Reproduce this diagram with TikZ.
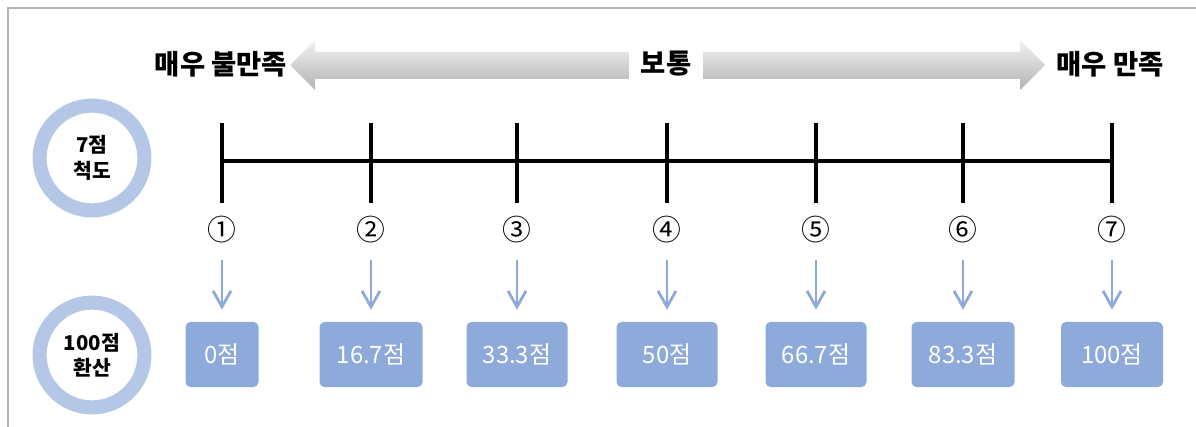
\documentclass[tikz,border=0pt]{standalone}
\usepackage{fontspec}
\setmainfont{Noto Sans CJK KR}
\usetikzlibrary{arrows.meta}
\definecolor{ksRing}{HTML}{B4C7E7}
\definecolor{ksBlue}{HTML}{8EAADB}
\definecolor{ksFrame}{HTML}{B3B3B3}
\begin{document}
\begin{tikzpicture}[
    x=0.025cm, y=-0.025cm,
    ksEnd/.style={font=\bfseries\fontsize{19.5}{22}\selectfont, inner sep=0pt},
    ksRingNode/.style={circle, draw=ksRing, line width=10pt, minimum size=2.62cm, align=center,
        font=\bfseries\fontsize{14.5}{18}\selectfont},
    ksScale/.style={line width=3pt},
    ksNum/.style={font=\fontsize{20.5}{22}\selectfont, inner sep=0pt, minimum height=0.75cm},
    ksDown/.style={ksBlue, line width=2pt, -{Straight Barb[length=0.4cm, width=0.45cm]},
        shorten <=0.375cm, shorten >=0.3cm},
    ksBox/.style={fill=ksBlue, rounded corners=3.5pt, text=white, minimum height=1.625cm,
        font=\fontsize{17}{19}\selectfont}
]
\useasboundingbox (0,0) rectangle (1196,427);
\draw[ksFrame, line width=2pt] (8,427) -- (8,8) -- (1196,8);

% big double arrow
\path[top color=gray!10, bottom color=gray!60]
    (290,65) -- (315,40) -- (315,52) -- (1020,52) -- (1020,40) -- (1045,65)
    -- (1020,90) -- (1020,79) -- (315,79) -- (315,90) -- cycle;
\node[ksEnd, fill=white, inner xsep=0.3cm, inner ysep=3pt] (mid) at (666,64) {보통};
\node[ksEnd] (low) at (221,64) {매우 불만족};
\node[ksEnd] (high) at (1110,64) {매우 만족};

\node[ksRingNode] (ring7) at (92,158) {7점\\척도};
\node[ksRingNode] (ring100) at (92,355) {100점\\환산};

\foreach \x/\n/\val/\w [count=\i] in {222/①/0점/73, 371/②/16.7점/103, 517/③/33.3점/101,
        667/④/50점/101, 816/⑤/66.7점/101, 963/⑥/83.3점/103, 1112/⑦/100점/102} {
    \coordinate (top\i) at (\x,123);
    \coordinate (bot\i) at (\x,203);
    \coordinate (mid\i) at (\x,161);
    \draw[ksScale] (top\i) -- (bot\i);
    \node[ksNum] (num\i) at (\x,230) {\n};
    \node[ksBox, minimum width=\w*0.025cm] (box\i) at (\x,354.5) {\val};
    \draw[ksDown] (num\i) -- (box\i);
}
\draw[ksScale] (mid1) -- (mid7);
\end{tikzpicture}
\end{document}
